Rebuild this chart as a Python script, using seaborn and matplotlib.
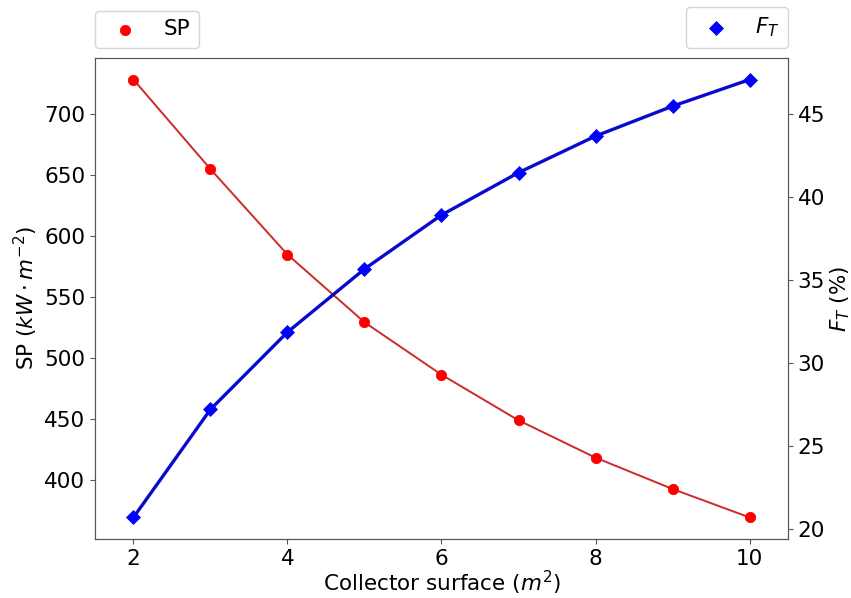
import pandas as pd
import matplotlib
matplotlib.use("Agg")
import matplotlib.pyplot as plt
import seaborn as sns

# values
surface = [2, 3, 4, 5, 6, 7, 8, 9, 10]
sp_values = [728, 654.6, 584.5, 529, 486, 448.6, 418, 392.3, 369]
ft_values = [20.7, 27.2, 31.85, 35.65, 38.9, 41.45, 43.65, 45.45, 47.05]

df = pd.DataFrame({"surface": surface, "SP": sp_values, "FT": ft_values})

plt.rcParams["font.size"] = 15.5

fig = plt.figure(figsize=(8.51, 5.98), dpi=100)
ax = fig.add_axes([0.1116, 0.0982, 0.8144, 0.8053])
ax2 = ax.twinx()

# left axis: SP
sns.lineplot(data=df, x="surface", y="SP", ax=ax, color="#cc2a2a", linewidth=1.4)
sns.scatterplot(data=df, x="surface", y="SP", ax=ax, color="red", s=55,
                edgecolor="red", label="SP", zorder=3)

# right axis: F_T
sns.lineplot(data=df, x="surface", y="FT", ax=ax2, color="#0a0acc", linewidth=2.4)
sns.scatterplot(data=df, x="surface", y="FT", ax=ax2, color="blue", marker="D",
                s=50, edgecolor="blue", label="$F_T$", zorder=3)

ax.set_xlim(1.5, 10.5)
ax.set_xticks([2, 4, 6, 8, 10])
ax.set_yticks([400, 450, 500, 550, 600, 650, 700])
ax2.set_yticks([20, 25, 30, 35, 40, 45])

ax.set_xlabel("Collector surface ($m^2$)", labelpad=0)
ax.set_ylabel(r"SP ($kW \cdot m^{-2}$)", labelpad=3)
ax2.set_ylabel("$F_T$ (%)", labelpad=2)

ax.legend(loc="lower left", bbox_to_anchor=(0, 1.02), borderaxespad=0)
ax2.legend(loc="lower right", bbox_to_anchor=(1, 1.02), borderaxespad=0)

for a in (ax, ax2):
    for sp in a.spines.values():
        sp.set_color("#555555")
    a.tick_params(colors="#555555", labelcolor="black")

fig.savefig("out.png", dpi=100)
